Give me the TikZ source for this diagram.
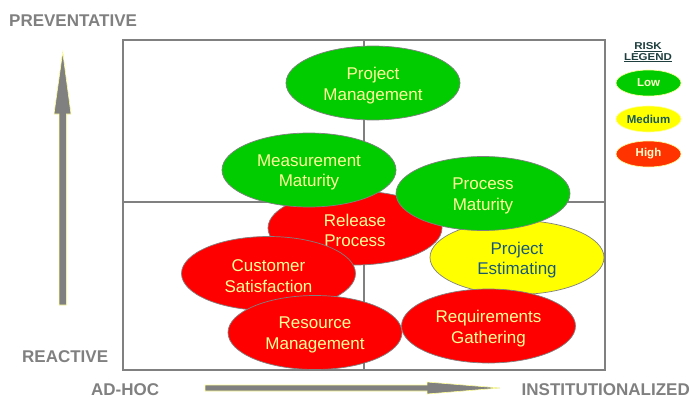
\documentclass[tikz,border=0pt]{standalone}
\usepackage{fontspec}
\setmainfont{Liberation Sans}
\usetikzlibrary{shapes.geometric}
\definecolor{axisgray}{HTML}{808080}
\definecolor{riskgreen}{HTML}{00CC00}
\definecolor{riskred}{HTML}{FF0000}
\definecolor{riskyellow}{HTML}{FFFF00}
\definecolor{legendred}{HTML}{FF3300}
\definecolor{paletext}{HTML}{FFFF99}
\definecolor{tealtext}{HTML}{1A5A5A}
\definecolor{glow}{HTML}{FFFF99}
\definecolor{titletext}{HTML}{1F3F3F}
\begin{document}
\begin{tikzpicture}[x=1pt,y=-1pt,
  area/.style={ellipse, draw=axisgray, line width=0.7pt, minimum width=174pt,
    minimum height=74pt, inner sep=0pt,
    label={[areatext, yshift=-2.5pt]center:#1}},
  areatext/.style={align=center, inner sep=0pt,
    font=\fontsize{17}{20.5}\selectfont, text=paletext},
  low/.style={area={#1}, fill=riskgreen},
  high/.style={area={#1}, fill=riskred},
  medium/.style={area={#1}, fill=riskyellow,
    label={[areatext, yshift=-2.5pt, text=tealtext]center:#1}},
  axislabel/.style={anchor=base west, inner sep=0pt, text=axisgray,
    font=\fontsize{17}{20}\selectfont\bfseries},
  key/.style={ellipse, draw=glow, line width=0.6pt, minimum width=65pt,
    minimum height=26pt, inner sep=0pt, font=\fontsize{11.5}{13}\selectfont\bfseries},
  legendtitle/.style={anchor=base, inner sep=0pt, text=titletext,
    font=\fontsize{10}{11}\selectfont\bfseries, xscale=1.15},
  arrowbody/.style={fill=axisgray, draw=glow, line width=0.6pt, line join=miter},
  frame/.style={draw=axisgray, line width=1.4pt}
]
\useasboundingbox (0,0) rectangle (691,399);

% quadrant frame
\draw[frame] (123,40) rectangle (605,370);
\draw[frame] (364,40) -- (364,370);
\draw[frame] (123,202) -- (605,202);

% axis arrows
\draw[arrowbody] (59,305) -- (59,114) -- (54,114) -- (62.7,52) -- (71,114)
  -- (66.4,114) -- (66.4,305) -- cycle;
\draw[arrowbody] (205,385) -- (427,385) -- (427,382) -- (500,388) -- (427,394)
  -- (427,391) -- (205,391) -- cycle;

% axis labels
\node[axislabel] (prev) at (9,26) {PREVENTATIVE};
\node[axislabel] (react) at (22,362) {REACTIVE};
\node[axislabel] (adhoc) at (91,395.5) {AD-HOC};
\node[axislabel] (inst) at (521.5,395.5) {INSTITUTIONALIZED};

% practice areas, back to front
\node[high={Release\\Process}] (release) at (355,228) {};
\node[high={Customer\\Satisfaction}] (customer) at (268.5,273.5) {};
\node[high={Resource\\Management}] (resource) at (315,332.5) {};
\node[medium={Project\\Estimating}] (estimating) at (517,257.5) {};
\node[high={Requirements\\Gathering}] (requirements) at (488.5,326) {};
\node[low={Measurement\\Maturity}] (measurement) at (309,170) {};
\node[low={Process\\Maturity}] (process) at (483,193.5) {};
\node[low={Project\\Management}] (projmgmt) at (373,83) {};

% risk legend
\node[legendtitle] (risk) at (648,49.5) {\underline{RISK}};
\node[legendtitle] (legend) at (648,60) {\underline{LEGEND}};
\node[key, fill=riskgreen, text=paletext!50!white] (low) at (648.5,83) {Low};
\node[key, fill=riskyellow, text=tealtext] (medium) at (648.5,119) {Medium};
\node[key, fill=legendred, text=paletext!50!white] (high) at (648.5,154) {High};
\end{tikzpicture}
\end{document}
